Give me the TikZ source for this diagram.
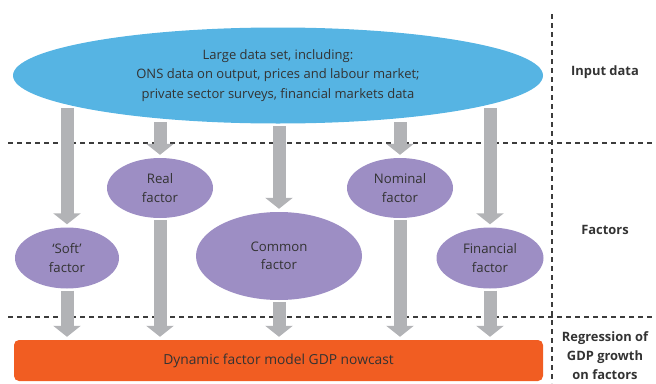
\documentclass[tikz,border=0pt]{standalone}
\usepackage{fontspec}
\setmainfont{Open Sans}
\usetikzlibrary{shapes.geometric,arrows.meta}
\definecolor{inblue}{HTML}{56B4E3}
\definecolor{facpurple}{HTML}{9D8EC4}
\definecolor{arrgray}{HTML}{B2B3B6}
\definecolor{gdporange}{HTML}{F15D22}
\definecolor{txt}{HTML}{333333}
\definecolor{dashc}{HTML}{3C3C3C}
\begin{document}
\begin{tikzpicture}[x=1pt,y=-1pt,
  every node/.style={text=txt,inner sep=0pt,align=center},
  inputell/.style={ellipse,fill=inblue,minimum width=530pt,minimum height=96pt,font=\fontsize{13}{19.5}\selectfont},
  factor/.style={ellipse,fill=facpurple,font=\fontsize{13.2}{18.5}\selectfont},
  gdpbox/.style={rectangle,rounded corners=5pt,fill=gdporange,minimum width=529pt,minimum height=41pt,font=\fontsize{13.8}{18}\selectfont},
  sidelabel/.style={font=\fontsize{12.9}{19}\selectfont\bfseries},
  fatarrow/.style={draw=arrgray,line width=13pt,-{Triangle[width=27pt,length=11pt]}},
  divider/.style={draw=dashc,line width=1.1pt,dash pattern=on 5pt off 4pt}]
\useasboundingbox (0,0) rectangle (656,383);
% dividers
\draw[divider] (8,143) -- (656,143);
\draw[divider] (8,317) -- (656,317);
\draw[divider] (552,14) -- (552,383);
% nodes
\node[inputell] (input) at (278,75.5) {Large data set, including:\\ONS data on output, prices and labour market;\\private sector surveys, financial markets data};
\node[factor,minimum width=104pt,minimum height=61pt] (soft) at (67,258) {`Soft'\\factor};
\node[factor,minimum width=106pt,minimum height=60pt] (real) at (160,188) {Real\\factor};
\node[factor,minimum width=166pt,minimum height=88pt] (common) at (279,256) {Common\\factor};
\node[factor,minimum width=106pt,minimum height=60pt] (nominal) at (400,188) {Nominal\\factor};
\node[factor,minimum width=107pt,minimum height=61pt] (financial) at (490,258) {Financial\\factor};
\node[gdpbox] (gdp) at (278.5,360.5) {Dynamic factor model GDP nowcast};
\node[sidelabel] (lin) at (605,72) {Input data};
\node[sidelabel] (lfac) at (605,230) {Factors};
\node[sidelabel] (lreg) at (605,356) {Regression of\\GDP growth\\on factors};
% arrow starts below the input ellipse
\coordinate (s1) at (67,108);
\coordinate (s2) at (160,122);
\coordinate (s3) at (279,126);
\coordinate (s4) at (400,122);
\coordinate (s5) at (490,108);
% arrows input -> factors
\draw[fatarrow,shorten >=3pt] (s1) -- (soft.north);
\draw[fatarrow,shorten >=3pt] (s2) -- (real.north);
\draw[fatarrow,shorten >=3pt] (s3) -- (common.north);
\draw[fatarrow,shorten >=3pt] (s4) -- (nominal.north);
\draw[fatarrow,shorten >=3pt] (s5) -- (financial.north);
% arrows factors -> gdp
\draw[fatarrow,shorten <=2pt,shorten >=3pt] (soft.south) -- (soft.south |- gdp.north);
\draw[fatarrow,shorten <=2pt,shorten >=3pt] (real.south) -- (real.south |- gdp.north);
\draw[fatarrow,shorten <=2pt,shorten >=3pt] (common.south) -- (common.south |- gdp.north);
\draw[fatarrow,shorten <=2pt,shorten >=3pt] (nominal.south) -- (nominal.south |- gdp.north);
\draw[fatarrow,shorten <=2pt,shorten >=3pt] (financial.south) -- (financial.south |- gdp.north);
\end{tikzpicture}
\end{document}
